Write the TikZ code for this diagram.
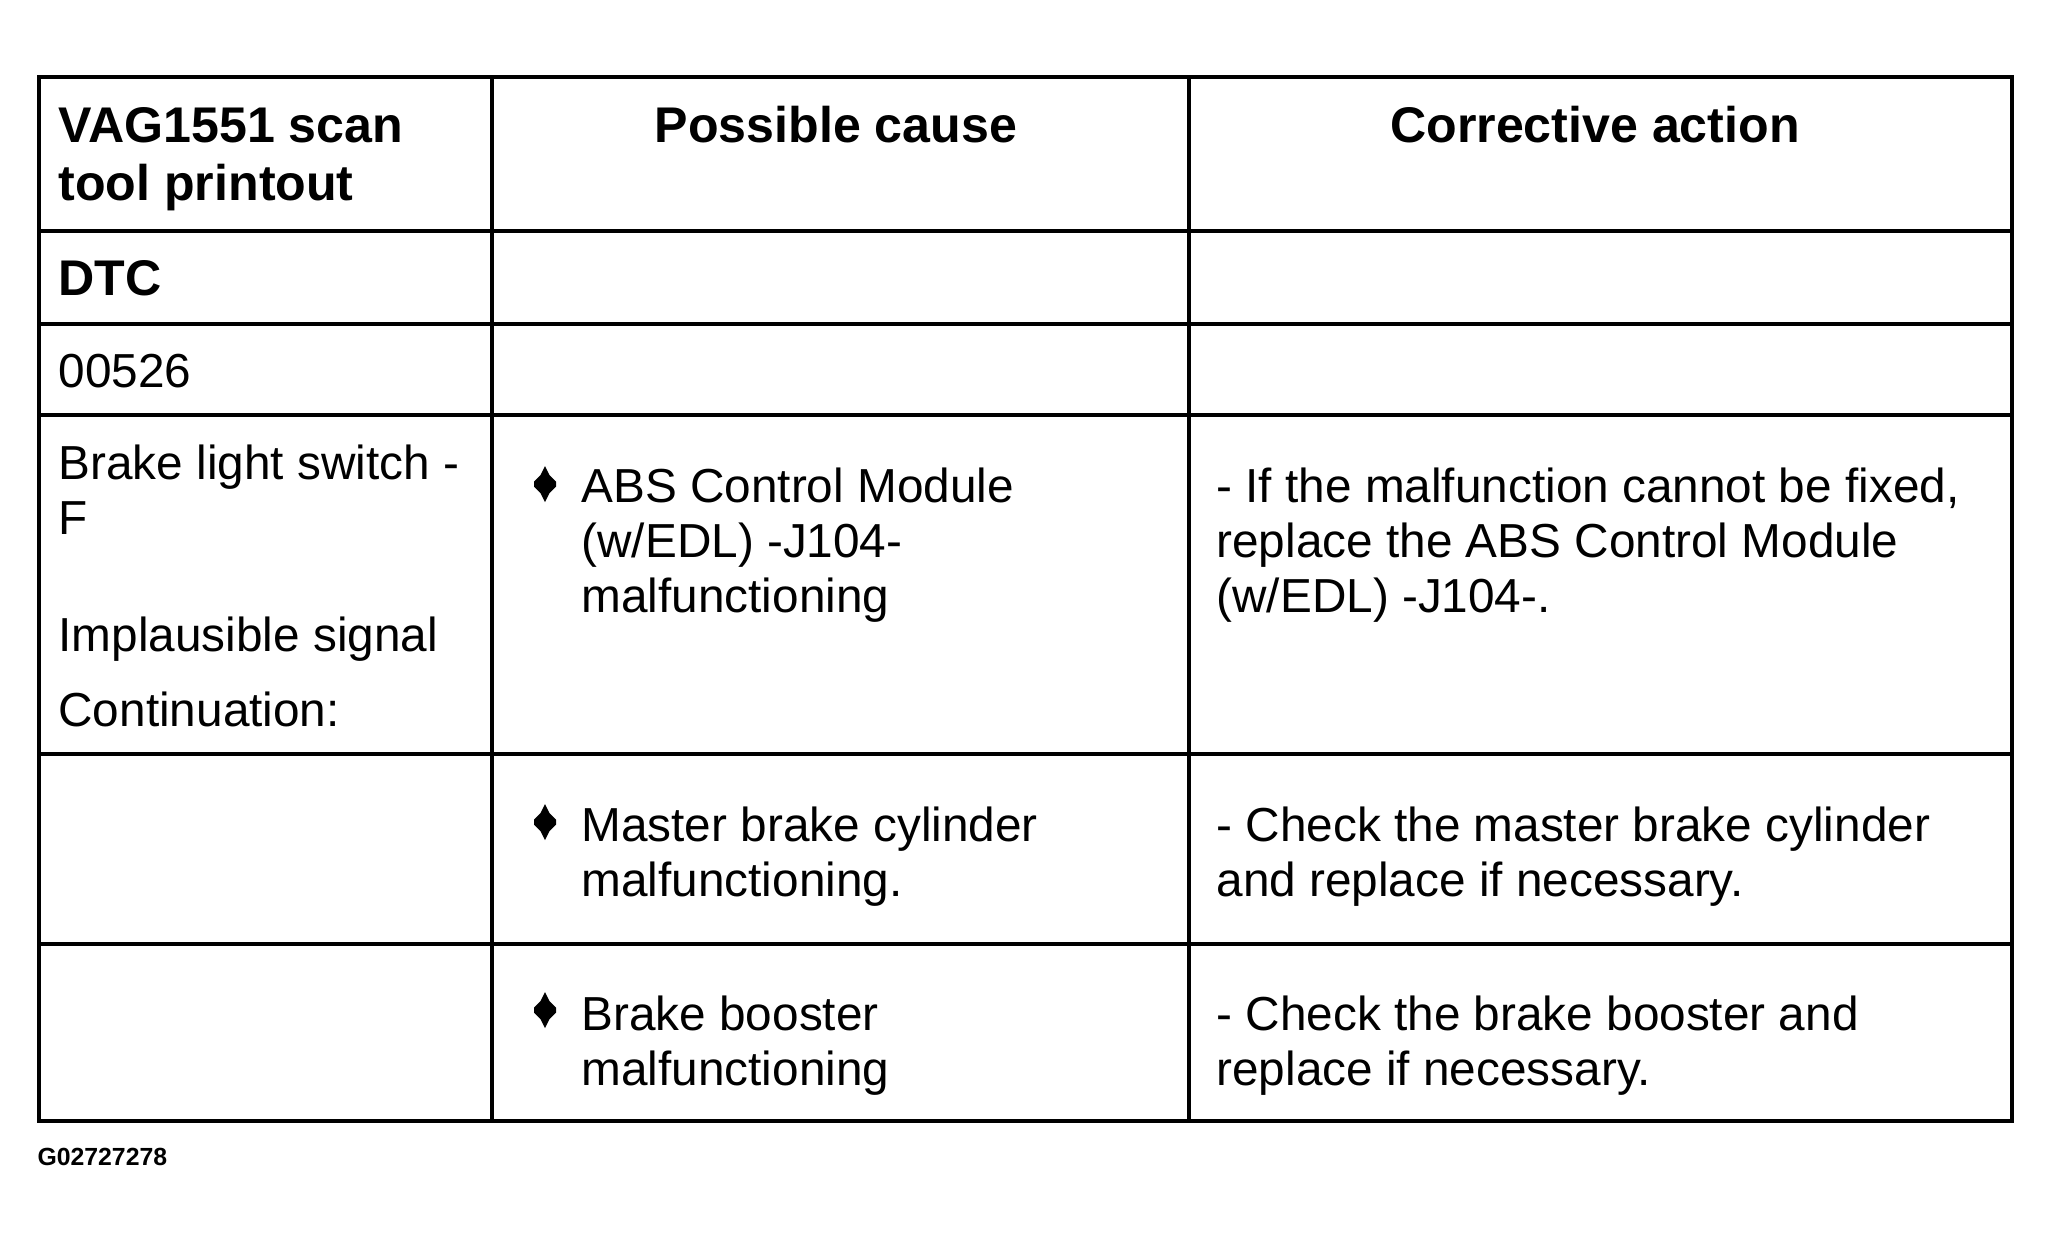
\documentclass[tikz,border=0pt]{standalone}
\usepackage{fontspec}
\setmainfont{Liberation Sans}
\begin{document}
\begin{tikzpicture}[x=0.375pt,y=-0.375pt,
  rule/.style={line width=1.5pt},
  cell/.style={anchor=base west,inner sep=0pt,align=left,font=\fontsize{17.9}{20.6}\selectfont},
  headl/.style={anchor=base west,inner sep=0pt,align=left,font=\bfseries\fontsize{18.8}{21.6}\selectfont},
  head/.style={anchor=base,inner sep=0pt,align=center,font=\bfseries\fontsize{18.8}{21.6}\selectfont},
  tag/.style={anchor=base west,inner sep=0pt,font=\bfseries\fontsize{9.3}{11}\selectfont}]

\useasboundingbox (0,0) rectangle (2050,1241);

% table frame and rules
\coordinate (tl) at (39,77);
\coordinate (br) at (2012,1121);
\draw[rule] (tl) rectangle (br);
\foreach \y in {231,324,415,754,944}
  \draw[rule] (39,\y) -- (2012,\y);
\foreach \x in {492,1189}
  \draw[rule] (\x,77) -- (\x,1121);

% header (base = last line)
\node[headl] (scan) at (58,200) {VAG1551 scan\\tool printout};
\node[head] (cause) at (836,142) {Possible cause};
\node[head] (action) at (1595,142) {Corrective action};

% first column
\node[headl] (dtc) at (58,295) {DTC};
\node[cell] (code) at (58,387) {00526};
\node[cell] (brk) at (58,534) {Brake light switch -\\F};
\node[cell] (imp) at (58,651) {Implausible signal};
\node[cell] (cont) at (58,726) {Continuation:};

% causes
\foreach \y in {484,822,1010}
  \fill[shift={(545,\y)}] (0,-18) -- (4.5,-9) -- (11,-2.5) -- (11,2.5) -- (4.5,9) -- (0,18)
    -- (-4.5,9) -- (-11,2.5) -- (-11,-2.5) -- (-4.5,-9) -- cycle;
\node[cell] (abs) at (581,612) {ABS Control Module\\(w/EDL) -J104-\\malfunctioning};
\node[cell] (mbc) at (581,896) {Master brake cylinder\\malfunctioning.};
\node[cell] (boost) at (581,1085) {Brake booster\\malfunctioning};

% actions
\node[cell] (fixabs) at (1216,612) {- If the malfunction cannot be fixed,\\replace the ABS Control Module\\(w/EDL) -J104-.};
\node[cell] (fixmbc) at (1216,896) {- Check the master brake cylinder\\and replace if necessary.};
\node[cell] (fixboost) at (1216,1085) {- Check the brake booster and\\replace if necessary.};

\node[tag] (fig) at (37,1165) {G02727278};

\end{tikzpicture}
\end{document}
